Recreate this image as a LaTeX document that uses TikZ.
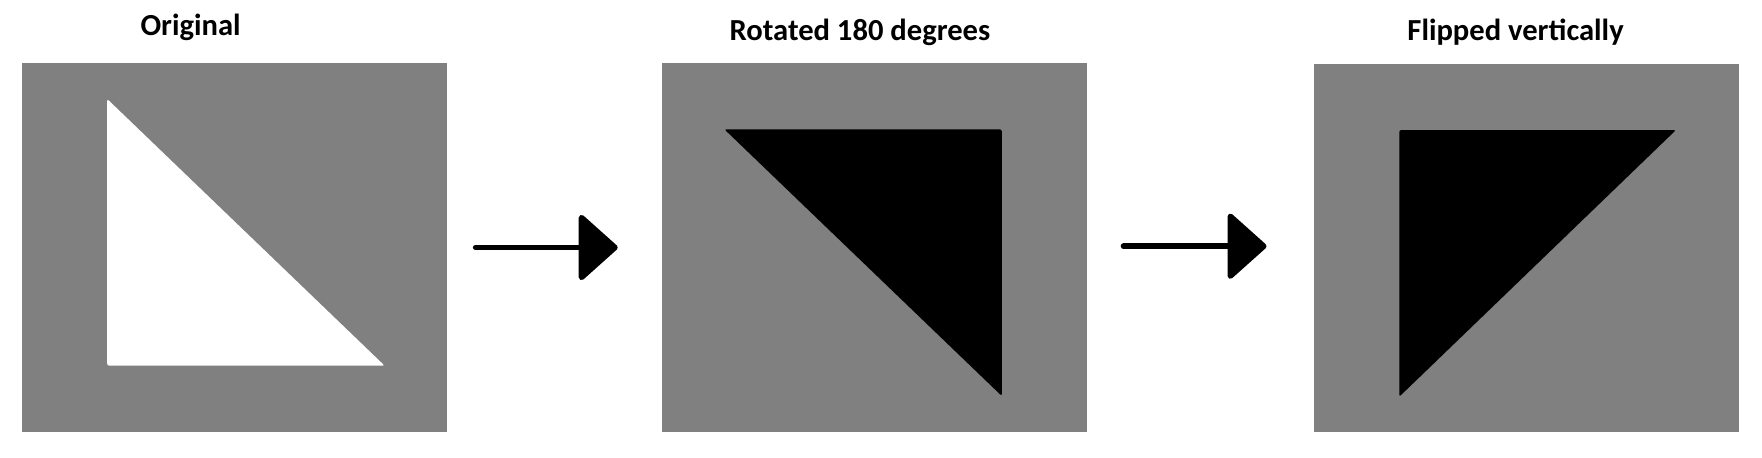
\documentclass[tikz,border=0pt]{standalone}
\usepackage{fontspec}
\setmainfont{Carlito}
\usetikzlibrary{arrows.meta}
\definecolor{panelgray}{RGB}{128,128,128}
\tikzset{
  panel/.style={fill=panelgray, draw=none, inner sep=0pt, minimum width=4.25cm, minimum height=3.685cm},
  title/.style={font=\bfseries\fontsize{8.7pt}{10pt}\selectfont, anchor=base, inner sep=0pt},
  flow/.style={line width=1.6pt, line cap=round, line join=round, -{Triangle[length=11.5pt, width=20.2pt, round]}},
  tri/.style={line join=round, rounded corners=0.6pt}
}
\begin{document}
\begin{tikzpicture}[x=0.01cm, y=-0.01cm]
\useasboundingbox (0,0) rectangle (1762,457);
% panels
\node[panel] (p1) at (234.5,247.8) {};
\node[panel] (p2) at (874.2,247.8) {};
\node[panel] (p3) at (1526.3,248.1) {};
% triangles
\fill[white, tri] (107.2,99) -- (107.2,365.7) -- (384.6,365.7) -- cycle;
\fill[black, tri] (724.4,129.3) -- (1001.8,129.3) -- (1001.8,396) -- cycle;
\fill[black, tri] (1399.3,130) -- (1676,130) -- (1399.3,396.7) -- cycle;
% titles
\node[title] (t1) at (190.6,35) {Original};
\node[title] (t2) at (860,40.7) {Rotated 180 degrees};
\node[title] (t3) at (1515.6,40.7) {Flipped vertically};
% arrows
\coordinate (a1s) at (475.7,247.5);
\coordinate (a1e) at (617.7,247.5);
\coordinate (a2s) at (1123.5,246.2);
\coordinate (a2e) at (1266.5,246.2);
\draw[flow] (a1s) -- (a1e);
\draw[flow] (a2s) -- (a2e);
\end{tikzpicture}
\end{document}
